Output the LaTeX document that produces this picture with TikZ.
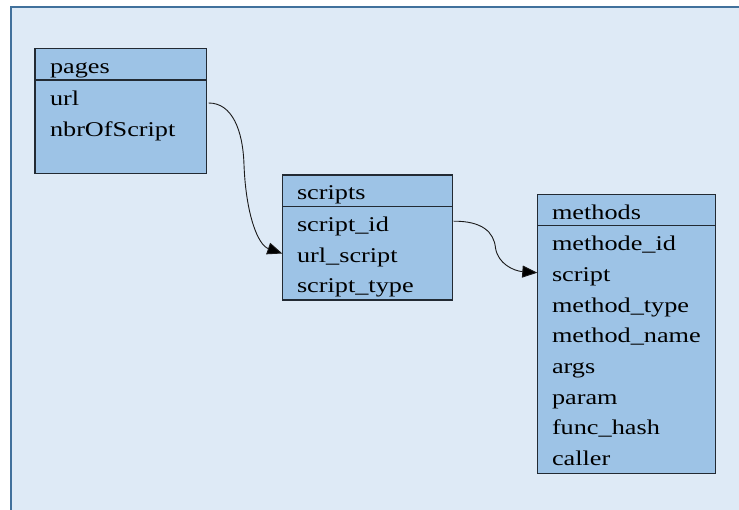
\documentclass[tikz,border=0pt]{standalone}
\usepackage{fontspec}
\usepackage{graphicx}
\setmainfont{Liberation Serif}
\usetikzlibrary{arrows.meta,calc}

\definecolor{pagebg}{HTML}{DEEAF6}
\definecolor{framecol}{HTML}{41719C}
\definecolor{boxfill}{HTML}{9DC3E6}
\definecolor{boxline}{HTML}{222A33}
\definecolor{linkcol}{HTML}{1A1A1A}

% field labels are set slightly wide
\newcommand\widetext[1]{\scalebox{1.25}[1]{#1}}

\begin{document}
\begin{tikzpicture}[x=1pt,y=-1pt,
  tablebox/.style={draw=boxline, fill=boxfill, line width=1.3pt, rectangle,
    anchor=north west, inner sep=0pt, outer sep=0pt},
  divider/.style={draw=boxline, line width=1.3pt},
  field/.style={anchor=base west, inner sep=0pt, outer sep=0pt,
    font=\fontsize{21}{25}\selectfont, text=black},
  link/.style={draw=linkcol, line width=0.9pt,
    -{Triangle[length=15pt,width=12pt,fill=black]}}]

\useasboundingbox (0,0) rectangle (739,510);
\clip (0,0) rectangle (739,510);

% canvas
\fill[white] (0,0) rectangle (739,510);
\fill[pagebg] (11,7) rectangle (760,530);
\draw[framecol, line width=2pt] (11,530) -- (11,7) -- (760,7);

% table: pages
\node[tablebox, minimum width=171.7pt, minimum height=125pt] (pages) at (35,48.5) {};
\draw[divider] (pages.west |- 0,80) -- (pages.east |- 0,80);
\node[field] (pagesH) at (50,74) {\widetext{pages}};
\node[field] (url) at (50,106) {\widetext{url}};
\node[field] (nbr) at (50,137) {\widetext{nbrOfScript}};

% table: scripts
\node[tablebox, minimum width=170.4pt, minimum height=125pt] (scripts) at (282.3,175) {};
\draw[divider] (scripts.west |- 0,206.7) -- (scripts.east |- 0,206.7);
\node[field] (scriptsH) at (297,200) {\widetext{scripts}};
\node[field] (sid) at (297,231.7) {\widetext{script\_id}};
\node[field] (surl) at (297,262.5) {\widetext{url\_script}};
\node[field] (stype) at (297,293) {\widetext{script\_type}};

% table: methods
\node[tablebox, minimum width=178.4pt, minimum height=278.6pt] (methods) at (537.3,194.7) {};
\draw[divider] (methods.west |- 0,225.7) -- (methods.east |- 0,225.7);
\node[field] (methodsH) at (552,220) {\widetext{methods}};
\node[field] (mid) at (552,251) {\widetext{methode\_id}};
\node[field] (mscript) at (552,281.7) {\widetext{script}};
\node[field] (mtype) at (552,312.4) {\widetext{method\_type}};
\node[field] (mname) at (552,343) {\widetext{method\_name}};
\node[field] (margs) at (552,373.7) {\widetext{args}};
\node[field] (mparam) at (552,404.4) {\widetext{param}};
\node[field] (mhash) at (552,435) {\widetext{func\_hash}};
\node[field] (mcaller) at (552,465.7) {\widetext{caller}};

% references between tables
\draw[link] ($(pages.east |- url.base)+(2,-3)$)
  .. controls (232,103) and (243,130) .. (244,165)
  .. controls (246,215) and (258,245) .. ($(scripts.west |- surl.base)+(0,-9)$);
\draw[link] ($(scripts.east |- sid.base)+(1,-10.5)$)
  .. controls (482,221) and (494,232) .. (495.5,248)
  .. controls (498,264) and (514,271) .. ($(methods.west |- mscript.base)+(0,-9)$);
\end{tikzpicture}
\end{document}
